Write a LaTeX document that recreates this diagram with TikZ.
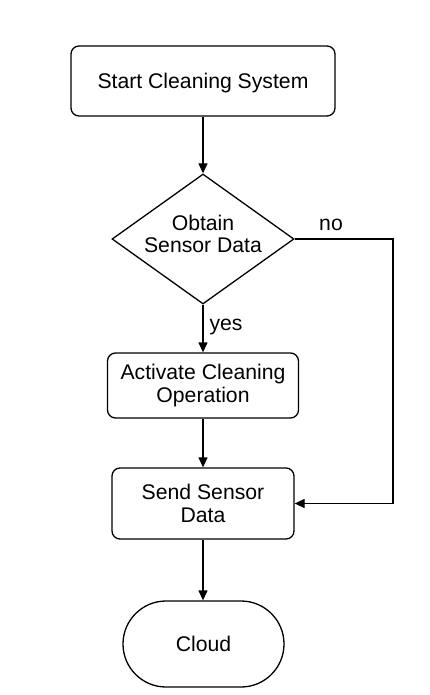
\documentclass[tikz,border=0pt]{standalone}
\usepackage{fontspec}
\setmainfont{Liberation Sans}
\usetikzlibrary{shapes.geometric,arrows.meta}
\begin{document}
\begin{tikzpicture}[x=1pt,y=-1pt,
  every node/.style={font=\fontsize{21.2}{22.5}\selectfont, align=center},
  procbox/.style={draw, line width=1.3pt, rounded corners=8pt, inner sep=0pt},
  decbox/.style={draw, line width=1.3pt, diamond, aspect=1.4, inner sep=0pt, minimum width=182pt, minimum height=130pt},
  termbox/.style={draw, line width=1.3pt, rounded corners=43pt, inner sep=0pt, minimum width=161pt, minimum height=86pt},
  conn/.style={line width=1.3pt, -{Triangle[length=10pt,width=9pt]}},
  lbl/.style={inner sep=0pt}
]
\useasboundingbox (0,0) rectangle (429,695);
\fill[white] (0,0) rectangle (429,695);
\node[procbox, minimum width=264pt, minimum height=70pt, text depth=0pt] (start) at (203,81) {Start Cleaning System};
\node[decbox] (dec) at (203,239) {};
\node[lbl] (dectext) at (203,234) {Obtain\\Sensor Data};
\node[procbox, minimum width=191pt, minimum height=65pt] (act) at (203,385.5) {Activate Cleaning\\Operation};
\node[procbox, minimum width=182pt, minimum height=71pt] (send) at (203,503.5) {Send Sensor\\Data};
\node[termbox] (cloud) at (203.5,644) {Cloud};
\coordinate (c1) at (393,239);
\coordinate (c2) at (393,503.5);
\draw[conn] (start) -- (dec);
\draw[conn] (dec) -- (act);
\draw[conn] (act) -- (send);
\draw[conn] (send) -- (cloud.north -| send.south);
\draw[conn] (dec.east) -- (c1) -- (c2) -- (send.east);
\node[lbl, anchor=base] (no) at (331,230) {no};
\node[lbl, anchor=base] (yes) at (226,330) {yes};
\end{tikzpicture}
\end{document}
